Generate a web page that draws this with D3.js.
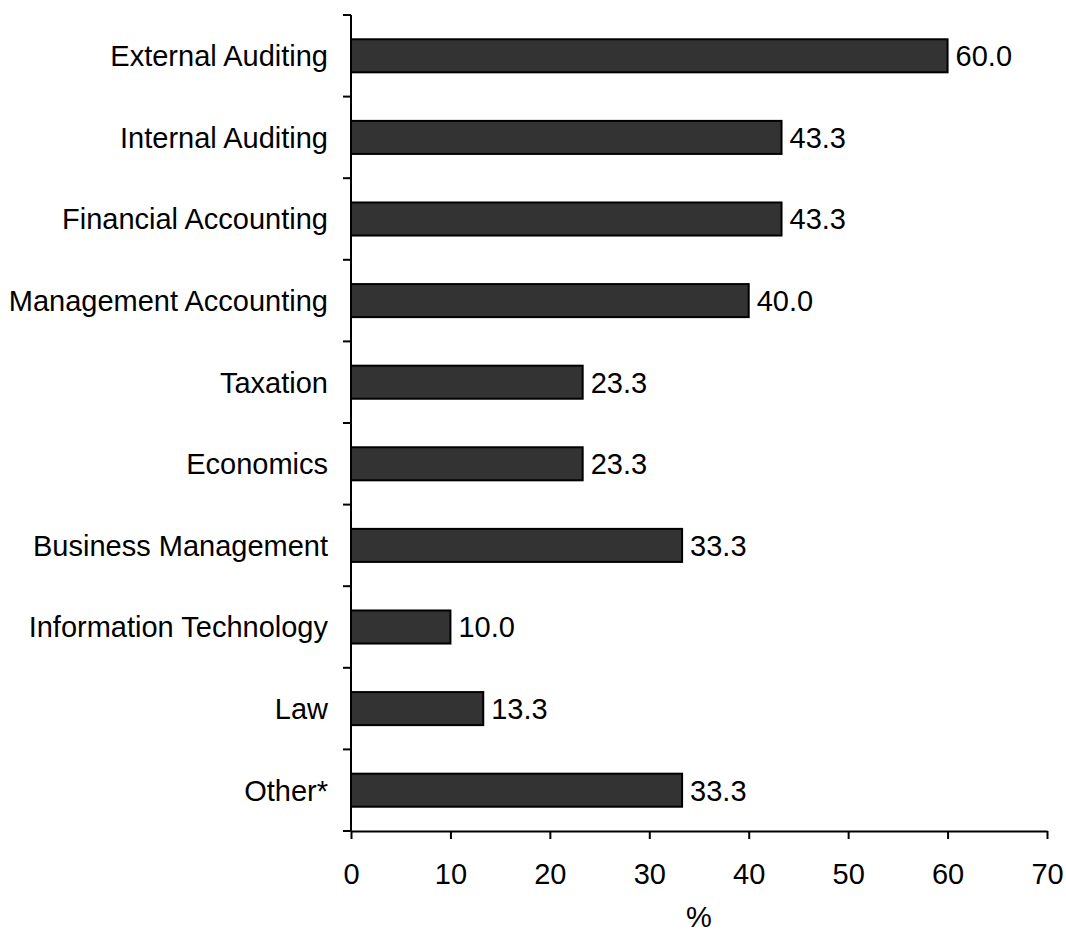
<!DOCTYPE html>
<html>
<head>
<meta charset="utf-8">
<script src="https://cdn.jsdelivr.net/npm/d3@7"></script>
<style>
  body { margin: 0; background: #fff; }
  svg { font-family: "Liberation Sans", Arial, sans-serif; }
  .axis path, .axis line { stroke: #000; stroke-width: 2; }
  .axis text { font-size: 29px; fill: #000; }
</style>
</head>
<body>
<svg width="1066" height="934"></svg>
<script>
// subjects, top to bottom
var subjects = ["External Auditing", "Internal Auditing", "Financial Accounting",
                "Management Accounting", "Taxation", "Economics", "Business Management",
                "Information Technology", "Law", "Other*"];
var percents = [60.0, 43.3, 43.3, 40.0, 23.3, 23.3, 33.3, 10.0, 13.3, 33.3];
var xTicks = [0, 10, 20, 30, 40, 50, 60, 70];

var svg = d3.select("svg");

var x = d3.scaleLinear()
    .domain([0, 70])
    .range([351, 1047]);

var y = d3.scaleBand()
    .domain(subjects)
    .range([15, 831])
    .paddingInner(0.595)
    .paddingOuter(0.2975);

var data = subjects.map(function(s, i) { return {name: s, value: percents[i]}; });

// bars
svg.append("g")
  .selectAll("rect")
  .data(data)
  .enter().append("rect")
    .attr("x", x(0))
    .attr("y", function(d) { return y(d.name); })
    .attr("width", function(d) { return x(d.value) - x(0); })
    .attr("height", y.bandwidth())
    .attr("fill", "#333333")
    .attr("stroke", "#000")
    .attr("stroke-width", 2);

// value labels
svg.append("g")
  .selectAll("text")
  .data(data)
  .enter().append("text")
    .attr("x", function(d) { return x(d.value) + 8; })
    .attr("y", function(d) { return y(d.name) + y.bandwidth() / 2; })
    .attr("dy", "0.36em")
    .style("font-size", "29px")
    .text(function(d) { return d.value.toFixed(1); });

// y axis: ticks sit on category boundaries
var yAxis = svg.append("g")
    .attr("class", "axis")
    .attr("transform", "translate(" + x(0) + ",0)");

var step = y.step();
var bounds = d3.range(subjects.length + 1).map(function(i) { return 15 + i * step; });

yAxis.append("path")
    .attr("d", "M0," + bounds[0] + "V" + bounds[bounds.length - 1]);

yAxis.selectAll("line")
  .data(bounds)
  .enter().append("line")
    .attr("x1", -8).attr("x2", 0)
    .attr("y1", function(d) { return d; })
    .attr("y2", function(d) { return d; });

yAxis.selectAll("text")
  .data(subjects)
  .enter().append("text")
    .attr("x", -23)
    .attr("y", function(d) { return y(d) + y.bandwidth() / 2; })
    .attr("dy", "0.36em")
    .attr("text-anchor", "end")
    .text(function(d) { return d; });

// x axis
svg.append("g")
    .attr("class", "axis")
    .attr("transform", "translate(0,831)")
    .call(d3.axisBottom(x)
      .tickValues(xTicks)
      .tickSize(8)
      .tickSizeOuter(0)
      .tickPadding(24))
    .call(function(g) { g.selectAll("text").attr("font-family", null).attr("font-size", null); });

svg.append("text")
    .attr("x", (x(0) + x(70)) / 2)
    .attr("y", 927)
    .attr("text-anchor", "middle")
    .style("font-size", "29px")
    .text("%");
</script>
</body>
</html>
